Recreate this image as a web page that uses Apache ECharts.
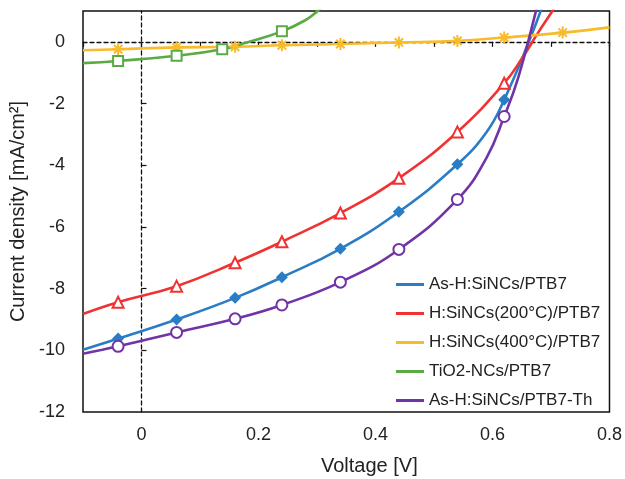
<!DOCTYPE html>
<html>
<head>
<meta charset="utf-8">
<script src="https://cdn.jsdelivr.net/npm/echarts@6/dist/echarts.min.js"></script>
<style>
html,body{margin:0;padding:0;background:#fff;}
#c{width:625px;height:479px;}
</style>
</head>
<body>
<div id="c"></div>
<script>
// ---- data ----
const seriesNames = ['As-H:SiNCs/PTB7', 'H:SiNCs(200°C)/PTB7', 'H:SiNCs(400°C)/PTB7', 'TiO2-NCs/PTB7', 'As-H:SiNCs/PTB7-Th'];
const xTicks = [0, 0.2, 0.4, 0.6, 0.8];
const yTicks = [-12, -10, -8, -6, -4, -2, 0];

const blueX = [-0.1, -0.04, 0.06, 0.16, 0.24, 0.34, 0.44, 0.54, 0.59, 0.62, 0.664, 0.69];
const blueY = [-9.98, -9.62, -9.00, -8.30, -7.63, -6.71, -5.51, -3.97, -2.92, -1.88, 0.09, 1.4];
const blueMarks = [-0.04, 0.06, 0.16, 0.24, 0.34, 0.44, 0.54, 0.62];

const redX = [-0.1, -0.04, 0.06, 0.16, 0.24, 0.34, 0.44, 0.54, 0.62, 0.65, 0.678, 0.704, 0.72];
const redY = [-8.82, -8.44, -7.92, -7.16, -6.48, -5.55, -4.42, -2.92, -1.34, -0.55, 0.30, 1.05, 1.55];
const redMarks = [-0.04, 0.06, 0.16, 0.24, 0.34, 0.44, 0.54, 0.62];

const yellowX = [-0.1, -0.04, 0.06, 0.16, 0.24, 0.34, 0.44, 0.54, 0.62, 0.72, 0.8];
const yellowY = [-0.27, -0.24, -0.18, -0.16, -0.11, -0.07, -0.02, 0.03, 0.14, 0.30, 0.47];
const yellowMarks = [-0.04, 0.06, 0.16, 0.24, 0.34, 0.44, 0.54, 0.62, 0.72];

const greenX = [-0.1, -0.04, 0.06, 0.138, 0.18, 0.24, 0.28, 0.30, 0.32];
const greenY = [-0.69, -0.62, -0.45, -0.24, -0.02, 0.34, 0.70, 0.98, 1.3];
const greenMarks = [-0.04, 0.06, 0.138, 0.24];

const purpleX = [-0.1, -0.04, 0.06, 0.16, 0.24, 0.34, 0.44, 0.54, 0.59, 0.62, 0.644, 0.673, 0.69];
const purpleY = [-10.11, -9.87, -9.42, -8.98, -8.53, -7.79, -6.73, -5.11, -3.75, -2.42, -1.16, 0.9, 2.2];
const purpleMarks = [-0.04, 0.06, 0.16, 0.24, 0.34, 0.44, 0.54, 0.62];

// ---- styles ----
const colors = ['#2a7cc4', '#f03232', '#f8bb2c', '#5aab44', '#7034a6'];
const starPath = 'path://M0,5L10,5M5,0L5,10M1.5,1.5L8.5,8.5M8.5,1.5L1.5,8.5';
const font = 'Arial, "Liberation Sans", Helvetica, sans-serif';

function build(xs, ys, marks) {
  return xs.map((x, i) => {
    const item = { value: [x, ys[i]] };
    if (!marks.includes(x)) item.symbol = 'none';
    return item;
  });
}

function lineSeries(idx, xs, ys, marks, symbol, size, filled) {
  const c = colors[idx];
  return {
    name: seriesNames[idx],
    type: 'line',
    xAxisIndex: 0, yAxisIndex: 0,
    data: build(xs, ys, marks),
    smooth: 0.45,
    showSymbol: true,
    showAllSymbol: true,
    symbol: symbol,
    symbolSize: size,
    clip: true,
    lineStyle: { color: c, width: 2.6 },
    itemStyle: filled ? { color: c, borderColor: c, borderWidth: symbol.startsWith('path') ? 2 : 0 }
                      : { color: c, borderWidth: 1.6 },
    emphasis: { disabled: true },
    animation: false
  };
}

const chart = echarts.init(document.getElementById('c'), null, { renderer: 'canvas' });
chart.setOption({
  backgroundColor: '#fff',
  animation: false,
  textStyle: { fontFamily: font },
  grid: { left: 83, right: 15, top: 11, bottom: 67, show: true, borderColor: '#111', borderWidth: 1.5, backgroundColor: 'transparent' },
  legend: {
    orient: 'vertical',
    left: 391, top: 271,
    itemWidth: 28, itemHeight: 3, itemGap: 12,
    textStyle: { fontSize: 17, color: '#222', fontFamily: font },
    data: seriesNames.map((n, i) => ({ name: n, icon: 'rect', itemStyle: { color: colors[i], borderWidth: 0 } })),
    selectedMode: false
  },
  xAxis: [
    {
      type: 'value', min: -0.1, max: 0.8,
      axisLine: { show: false, onZero: false },
      axisTick: { show: false },
      splitLine: { show: false },
      axisLabel: { customValues: xTicks, fontSize: 18, color: '#222', margin: 14, fontFamily: font }
    },
    {
      type: 'value', min: -0.1, max: 0.8, interval: 0.1, position: 'bottom',
      axisLine: { show: true, onZero: true, onZeroAxisIndex: 0, lineStyle: { color: '#111', width: 1.3, type: [4, 3] } },
      axisTick: { show: true, inside: false, length: 5, lineStyle: { color: '#111', width: 1.2 } },
      axisLabel: { show: false },
      splitLine: { show: false }
    }
  ],
  yAxis: [
    {
      type: 'value', min: -12, max: 1,
      axisLine: { show: false, onZero: false },
      axisTick: { show: false },
      splitLine: { show: false },
      axisLabel: { customValues: yTicks, fontSize: 18, color: '#222', margin: 18, fontFamily: font },
      name: 'Current density [mA/cm²]',
      nameLocation: 'middle', nameGap: 43, nameRotate: 90,
      nameTextStyle: { fontSize: 20, color: '#222', fontFamily: font }
    },
    {
      type: 'value', min: -12, max: 1, position: 'left',
      axisLine: { show: true, onZero: true, onZeroAxisIndex: 0, lineStyle: { color: '#111', width: 1.3, type: [4, 3] } },
      axisTick: { show: true, inside: true, length: 5, customValues: [-10, -8, -6, -4, -2], lineStyle: { color: '#111', width: 1.2 } },
      axisLabel: { show: false },
      splitLine: { show: false }
    }
  ],
  graphic: [
    { type: 'text', left: 321, top: 456, style: { text: 'Voltage [V]', fontSize: 20, fill: '#222', fontFamily: font } }
  ],
  series: [
    lineSeries(0, blueX, blueY, blueMarks, 'diamond', 12, true),
    lineSeries(1, redX, redY, redMarks, 'emptyTriangle', 11, false),
    lineSeries(2, yellowX, yellowY, yellowMarks, starPath, 12, true),
    lineSeries(3, greenX, greenY, greenMarks, 'emptyRect', 10, false),
    lineSeries(4, purpleX, purpleY, purpleMarks, 'emptyCircle', 11, false)
  ]
});
</script>
</body>
</html>
